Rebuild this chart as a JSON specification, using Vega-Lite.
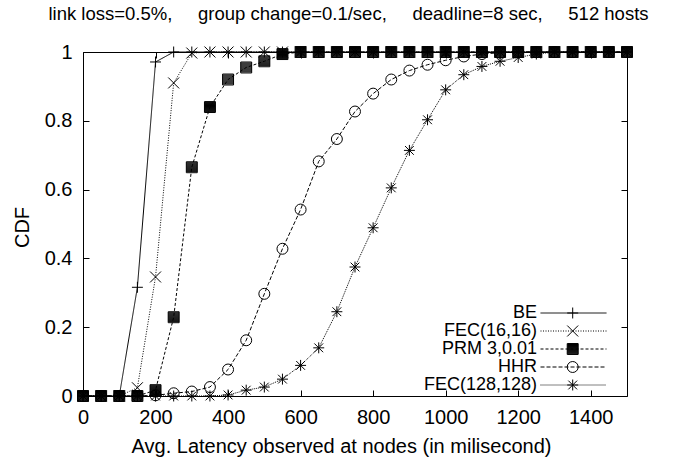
{
  "$schema": "https://vega.github.io/schema/vega-lite/v6.json",
  "autosize": {"type": "none"},
  "padding": {"left": 83, "top": 52, "right": 48, "bottom": 66},
  "width": 544,
  "height": 344,
  "background": "white",
  "title": {
    "text": "link loss=0.5%,\u00a0\u00a0\u00a0\u00a0\u00a0group change=0.1/sec,\u00a0\u00a0\u00a0\u00a0\u00a0deadline=8 sec,\u00a0\u00a0\u00a0\u00a0\u00a0512 hosts",
    "font": "Liberation Sans",
    "fontSize": 18.5,
    "fontWeight": "normal",
    "color": "black",
    "anchor": "middle",
    "frame": "group",
    "dx": -6.5,
    "offset": 19
  },
  "config": {
    "view": {"stroke": "black", "strokeWidth": 1},
    "axis": {
      "grid": false,
      "domain": false,
      "tickColor": "black",
      "tickSize": -6,
      "tickWidth": 1,
      "labelFlush": false,
      "labelOverlap": false,
      "labelColor": "black",
      "labelFont": "Liberation Sans",
      "labelFontSize": 20,
      "titleFont": "Liberation Sans",
      "titleFontSize": 20,
      "titleFontWeight": "normal",
      "titleColor": "black"
    }
  },
  "data": {
    "values": [
      {"series": "BE", "x": 0, "y": 0}, {"series": "BE", "x": 50, "y": 0}, {"series": "BE", "x": 100, "y": 0}, {"series": "BE", "x": 150, "y": 0.316}, {"series": "BE", "x": 200, "y": 0.971}, {"series": "BE", "x": 250, "y": 1}, {"series": "BE", "x": 300, "y": 1}, {"series": "BE", "x": 350, "y": 1}, {"series": "BE", "x": 400, "y": 1}, {"series": "BE", "x": 450, "y": 1}, {"series": "BE", "x": 500, "y": 1}, {"series": "BE", "x": 550, "y": 1}, {"series": "BE", "x": 600, "y": 1}, {"series": "BE", "x": 650, "y": 1}, {"series": "BE", "x": 700, "y": 1}, {"series": "BE", "x": 750, "y": 1}, {"series": "BE", "x": 800, "y": 1}, {"series": "BE", "x": 850, "y": 1}, {"series": "BE", "x": 900, "y": 1}, {"series": "BE", "x": 950, "y": 1}, {"series": "BE", "x": 1000, "y": 1}, {"series": "BE", "x": 1050, "y": 1}, {"series": "BE", "x": 1100, "y": 1}, {"series": "BE", "x": 1150, "y": 1}, {"series": "BE", "x": 1200, "y": 1}, {"series": "BE", "x": 1250, "y": 1}, {"series": "BE", "x": 1300, "y": 1}, {"series": "BE", "x": 1350, "y": 1}, {"series": "BE", "x": 1400, "y": 1}, {"series": "BE", "x": 1450, "y": 1}, {"series": "BE", "x": 1500, "y": 1},
      {"series": "FEC(16,16)", "x": 0, "y": 0}, {"series": "FEC(16,16)", "x": 50, "y": 0}, {"series": "FEC(16,16)", "x": 100, "y": 0}, {"series": "FEC(16,16)", "x": 150, "y": 0.024}, {"series": "FEC(16,16)", "x": 200, "y": 0.346}, {"series": "FEC(16,16)", "x": 250, "y": 0.91}, {"series": "FEC(16,16)", "x": 300, "y": 0.997}, {"series": "FEC(16,16)", "x": 350, "y": 1}, {"series": "FEC(16,16)", "x": 400, "y": 1}, {"series": "FEC(16,16)", "x": 450, "y": 1}, {"series": "FEC(16,16)", "x": 500, "y": 1}, {"series": "FEC(16,16)", "x": 550, "y": 1}, {"series": "FEC(16,16)", "x": 600, "y": 1}, {"series": "FEC(16,16)", "x": 650, "y": 1}, {"series": "FEC(16,16)", "x": 700, "y": 1}, {"series": "FEC(16,16)", "x": 750, "y": 1}, {"series": "FEC(16,16)", "x": 800, "y": 1}, {"series": "FEC(16,16)", "x": 850, "y": 1}, {"series": "FEC(16,16)", "x": 900, "y": 1}, {"series": "FEC(16,16)", "x": 950, "y": 1}, {"series": "FEC(16,16)", "x": 1000, "y": 1}, {"series": "FEC(16,16)", "x": 1050, "y": 1}, {"series": "FEC(16,16)", "x": 1100, "y": 1}, {"series": "FEC(16,16)", "x": 1150, "y": 1}, {"series": "FEC(16,16)", "x": 1200, "y": 1}, {"series": "FEC(16,16)", "x": 1250, "y": 1}, {"series": "FEC(16,16)", "x": 1300, "y": 1}, {"series": "FEC(16,16)", "x": 1350, "y": 1}, {"series": "FEC(16,16)", "x": 1400, "y": 1}, {"series": "FEC(16,16)", "x": 1450, "y": 1}, {"series": "FEC(16,16)", "x": 1500, "y": 1},
      {"series": "PRM 3,0.01", "x": 0, "y": 0}, {"series": "PRM 3,0.01", "x": 50, "y": 0}, {"series": "PRM 3,0.01", "x": 100, "y": 0}, {"series": "PRM 3,0.01", "x": 150, "y": 0}, {"series": "PRM 3,0.01", "x": 200, "y": 0.017}, {"series": "PRM 3,0.01", "x": 250, "y": 0.229}, {"series": "PRM 3,0.01", "x": 300, "y": 0.665}, {"series": "PRM 3,0.01", "x": 350, "y": 0.84}, {"series": "PRM 3,0.01", "x": 400, "y": 0.92}, {"series": "PRM 3,0.01", "x": 450, "y": 0.955}, {"series": "PRM 3,0.01", "x": 500, "y": 0.973}, {"series": "PRM 3,0.01", "x": 550, "y": 0.994}, {"series": "PRM 3,0.01", "x": 600, "y": 1}, {"series": "PRM 3,0.01", "x": 650, "y": 1}, {"series": "PRM 3,0.01", "x": 700, "y": 1}, {"series": "PRM 3,0.01", "x": 750, "y": 1}, {"series": "PRM 3,0.01", "x": 800, "y": 1}, {"series": "PRM 3,0.01", "x": 850, "y": 1}, {"series": "PRM 3,0.01", "x": 900, "y": 1}, {"series": "PRM 3,0.01", "x": 950, "y": 1}, {"series": "PRM 3,0.01", "x": 1000, "y": 1}, {"series": "PRM 3,0.01", "x": 1050, "y": 1}, {"series": "PRM 3,0.01", "x": 1100, "y": 1}, {"series": "PRM 3,0.01", "x": 1150, "y": 1}, {"series": "PRM 3,0.01", "x": 1200, "y": 1}, {"series": "PRM 3,0.01", "x": 1250, "y": 1}, {"series": "PRM 3,0.01", "x": 1300, "y": 1}, {"series": "PRM 3,0.01", "x": 1350, "y": 1}, {"series": "PRM 3,0.01", "x": 1400, "y": 1}, {"series": "PRM 3,0.01", "x": 1450, "y": 1}, {"series": "PRM 3,0.01", "x": 1500, "y": 1},
      {"series": "HHR", "x": 0, "y": 0}, {"series": "HHR", "x": 50, "y": 0}, {"series": "HHR", "x": 100, "y": 0}, {"series": "HHR", "x": 150, "y": 0}, {"series": "HHR", "x": 200, "y": 0.002}, {"series": "HHR", "x": 250, "y": 0.008}, {"series": "HHR", "x": 300, "y": 0.013}, {"series": "HHR", "x": 350, "y": 0.026}, {"series": "HHR", "x": 400, "y": 0.077}, {"series": "HHR", "x": 450, "y": 0.162}, {"series": "HHR", "x": 500, "y": 0.297}, {"series": "HHR", "x": 550, "y": 0.428}, {"series": "HHR", "x": 600, "y": 0.542}, {"series": "HHR", "x": 650, "y": 0.682}, {"series": "HHR", "x": 700, "y": 0.747}, {"series": "HHR", "x": 750, "y": 0.827}, {"series": "HHR", "x": 800, "y": 0.879}, {"series": "HHR", "x": 850, "y": 0.92}, {"series": "HHR", "x": 900, "y": 0.946}, {"series": "HHR", "x": 950, "y": 0.963}, {"series": "HHR", "x": 1000, "y": 0.976}, {"series": "HHR", "x": 1050, "y": 0.987}, {"series": "HHR", "x": 1100, "y": 0.994}, {"series": "HHR", "x": 1150, "y": 0.998}, {"series": "HHR", "x": 1200, "y": 1}, {"series": "HHR", "x": 1250, "y": 1}, {"series": "HHR", "x": 1300, "y": 1}, {"series": "HHR", "x": 1350, "y": 1}, {"series": "HHR", "x": 1400, "y": 1}, {"series": "HHR", "x": 1450, "y": 1}, {"series": "HHR", "x": 1500, "y": 1},
      {"series": "FEC(128,128)", "x": 0, "y": 0}, {"series": "FEC(128,128)", "x": 50, "y": 0}, {"series": "FEC(128,128)", "x": 100, "y": 0}, {"series": "FEC(128,128)", "x": 150, "y": 0}, {"series": "FEC(128,128)", "x": 200, "y": 0}, {"series": "FEC(128,128)", "x": 250, "y": 0}, {"series": "FEC(128,128)", "x": 300, "y": 0}, {"series": "FEC(128,128)", "x": 350, "y": 0}, {"series": "FEC(128,128)", "x": 400, "y": 0.003}, {"series": "FEC(128,128)", "x": 450, "y": 0.017}, {"series": "FEC(128,128)", "x": 500, "y": 0.026}, {"series": "FEC(128,128)", "x": 550, "y": 0.049}, {"series": "FEC(128,128)", "x": 600, "y": 0.089}, {"series": "FEC(128,128)", "x": 650, "y": 0.14}, {"series": "FEC(128,128)", "x": 700, "y": 0.245}, {"series": "FEC(128,128)", "x": 750, "y": 0.375}, {"series": "FEC(128,128)", "x": 800, "y": 0.489}, {"series": "FEC(128,128)", "x": 850, "y": 0.605}, {"series": "FEC(128,128)", "x": 900, "y": 0.714}, {"series": "FEC(128,128)", "x": 950, "y": 0.803}, {"series": "FEC(128,128)", "x": 1000, "y": 0.89}, {"series": "FEC(128,128)", "x": 1050, "y": 0.934}, {"series": "FEC(128,128)", "x": 1100, "y": 0.958}, {"series": "FEC(128,128)", "x": 1150, "y": 0.973}, {"series": "FEC(128,128)", "x": 1200, "y": 0.984}, {"series": "FEC(128,128)", "x": 1250, "y": 0.994}, {"series": "FEC(128,128)", "x": 1300, "y": 1}, {"series": "FEC(128,128)", "x": 1350, "y": 1}, {"series": "FEC(128,128)", "x": 1400, "y": 1}, {"series": "FEC(128,128)", "x": 1450, "y": 1}, {"series": "FEC(128,128)", "x": 1500, "y": 1}
    ]
  },
  "resolve": {"axis": {"x": "independent", "y": "independent"}},
  "layer": [
    {
      "mark": {"type": "line", "strokeWidth": 1, "clip": false},
      "encoding": {
        "x": {
          "field": "x", "type": "quantitative",
          "scale": {"domain": [0, 1500], "nice": false, "zero": false},
          "axis": {
            "orient": "bottom",
            "values": [0, 200, 400, 600, 800, 1000, 1200, 1400],
            "format": "d",
            "labelBaseline": "alphabetic",
            "labelPadding": 33.5,
            "title": "Avg. Latency observed at nodes (in milisecond)",
            "titleX": 258,
            "titleY": 56.5,
            "titleBaseline": "alphabetic"
          }
        },
        "y": {
          "field": "y", "type": "quantitative",
          "scale": {"domain": [0, 1], "nice": false},
          "axis": {
            "orient": "left",
            "values": [0, 0.2, 0.4, 0.6, 0.8, 1],
            "format": "~g",
            "labelPadding": 17,
            "title": "CDF",
            "titleX": -61,
            "titleY": 175,
            "titleAngle": -90,
            "titleAlign": "center",
            "titleBaseline": "middle"
          }
        },
        "color": {
          "field": "series", "type": "nominal",
          "sort": null,
          "scale": {"range": ["black", "black", "black", "black", "black"]},
          "legend": {
            "orient": "none",
            "legendX": 268,
            "legendY": 252,
            "title": null,
            "padding": 0,
            "symbolType": "stroke",
            "symbolSize": 4356,
            "symbolStrokeWidth": 1,
            "symbolOpacity": 0,
            "symbolOffset": 0,
            "labelAlign": "right",
            "labelOffset": 119,
            "clipHeight": 18,
            "rowPadding": 0,
            "labelFont": "Liberation Sans",
            "labelFontSize": 18,
            "labelColor": "black",
            "labelLimit": 0
          }
        },
        "strokeDash": {
          "field": "series", "type": "nominal",
          "scale": {
            "domain": ["BE", "FEC(16,16)", "PRM 3,0.01", "HHR", "FEC(128,128)"],
            "range": [[1, 0], [1, 1.5], [3, 2], [4, 2], [1, 1]]
          },
          "legend": {
            "orient": "none",
            "legendX": 268,
            "legendY": 252,
            "title": null,
            "padding": 0,
            "symbolType": "stroke",
            "symbolSize": 4356,
            "symbolStrokeWidth": 1,
            "symbolStrokeColor": "black",
            "symbolOffset": 189,
            "clipHeight": 18,
            "rowPadding": 0,
            "labelExpr": "''",
            "labelFontSize": 18
          }
        }
      }
    },
    {
      "mark": {"type": "point", "filled": false, "color": "black", "size": 120, "strokeWidth": 1, "opacity": 1, "clip": false},
      "encoding": {
        "x": {
          "field": "x", "type": "quantitative",
          "axis": {"orient": "top", "values": [0, 200, 400, 600, 800, 1000, 1200, 1400], "labels": false, "title": null}
        },
        "y": {
          "field": "y", "type": "quantitative",
          "axis": {"orient": "right", "values": [0, 0.2, 0.4, 0.6, 0.8, 1], "labels": false, "title": null}
        },
        "shape": {
          "field": "series", "type": "nominal",
          "sort": ["BE", "FEC(16,16)", "PRM 3,0.01", "HHR", "FEC(128,128)"],
          "scale": {
            "range": ["M-1,0H1M0,-1V1", "M-1,-1L1,1M-1,1L1,-1", "M-1,-1H1V1H-1ZM-1,-0.82H1M-1,-0.64H1M-1,-0.46H1M-1,-0.28H1M-1,-0.1H1M-1,0.08H1M-1,0.26H1M-1,0.44H1M-1,0.62H1M-1,0.8H1", "circle", "M-1,0H1M0,-1V1M-0.8,-0.8L0.8,0.8M-0.8,0.8L0.8,-0.8"]
          },
          "legend": {
            "orient": "none",
            "legendX": 268,
            "legendY": 252,
            "title": null,
            "padding": 0,
            "symbolSize": 120,
            "symbolStrokeWidth": 1,
            "symbolStrokeColor": "black",
            "symbolFillColor": "transparent",
            "symbolOffset": 212.7,
            "clipHeight": 18,
            "rowPadding": 0,
            "labelExpr": "''",
            "labelFontSize": 18
          }
        }
      }
    }
  ]
}
